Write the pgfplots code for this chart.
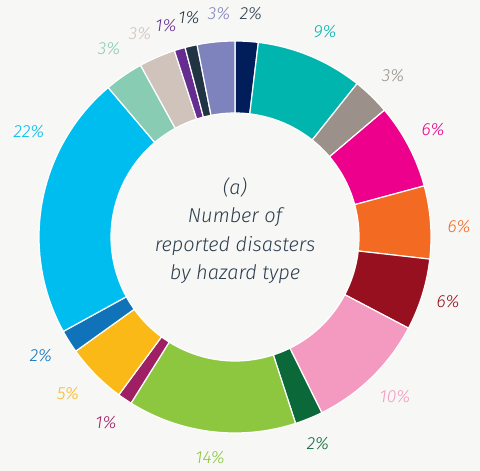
\documentclass[border=0pt]{standalone}
\usepackage{fontspec}
\setmainfont{Fira Sans Light}[ItalicFont={Fira Sans Light Italic}]
\usepackage{pgfplots}
\pgfplotsset{compat=1.18}
\definecolor{bgcol}{RGB}{247,247,245}
\definecolor{txt}{RGB}{46,62,79}
\definecolor{cnavy}{RGB}{2,30,90}
\definecolor{cteal}{RGB}{0,181,173}
\definecolor{cgray}{RGB}{155,145,138}
\definecolor{cmag}{RGB}{236,0,140}
\definecolor{corange}{RGB}{243,106,34}
\definecolor{cdred}{RGB}{150,16,31}
\definecolor{cpink}{RGB}{244,154,193}
\definecolor{cdgreen}{RGB}{11,104,56}
\definecolor{clgreen}{RGB}{141,198,63}
\definecolor{cplum}{RGB}{158,31,99}
\definecolor{cyellow}{RGB}{251,185,23}
\definecolor{cblue}{RGB}{16,115,185}
\definecolor{clblue}{RGB}{0,189,240}
\definecolor{cmint}{RGB}{137,204,180}
\definecolor{cbeige}{RGB}{208,195,187}
\definecolor{cpurple}{RGB}{102,45,145}
\definecolor{cslate}{RGB}{33,52,67}
\definecolor{clav}{RGB}{127,131,189}
% start %, end %, colour
\newcommand\seg[3]{%
\addplot[fill=#3, draw=white, line width=1.2pt, variable=\t,
  samples at={0,0.025,...,0.99,1,2,2.025,...,2.99,3}]
 ({235+((\t<1.5) ? (196) : (124))*sin(3.6*((\t<1.5) ? (#1+(#2-#1)*min(\t,1)) : (#2-(#2-#1)*min(\t-2,1))))},
  {234+((\t<1.5) ? (196) : (124))*cos(3.6*((\t<1.5) ? (#1+(#2-#1)*min(\t,1)) : (#2-(#2-#1)*min(\t-2,1))))}) -- cycle;}
\newcommand\lab[4]{\node[text=#3, font=\itshape\fontsize{17.5}{17.5}\selectfont] at (axis cs:#1,#2) {#4};}
\begin{document}
\begin{tikzpicture}
\begin{axis}[width=480pt, height=471pt, scale only axis, xmin=0, xmax=480, ymin=0, ymax=471, hide axis, clip=false]
\fill[bgcol] (axis cs:0,0) rectangle (axis cs:480,471);
\seg{0}{1.9}{cnavy}
\seg{1.9}{10.7}{cteal}
\seg{10.7}{13.8}{cgray}
\seg{13.8}{20.8}{cmag}
\seg{20.8}{26.8}{corange}
\seg{26.8}{32.7}{cdred}
\seg{32.7}{42.7}{cpink}
\seg{42.7}{45.0}{cdgreen}
\seg{45.0}{58.9}{clgreen}
\seg{58.9}{60.1}{cplum}
\seg{60.1}{65.1}{cyellow}
\seg{65.1}{67.0}{cblue}
\seg{67.0}{88.8}{clblue}
\seg{88.8}{92.0}{cmint}
\seg{92.0}{95.0}{cbeige}
\seg{95.0}{95.9}{cpurple}
\seg{95.9}{96.9}{cslate}
\seg{96.9}{100}{clav}
\lab{251}{457}{txt}{2\%}
\lab{325}{439}{cteal}{9\%}
\lab{393}{395}{cgray}{3\%}
\lab{433}{341}{cmag}{6\%}
\lab{459}{244}{corange}{6\%}
\lab{448}{169}{cdred}{6\%}
\lab{395}{74}{cpink}{10\%}
\lab{318}{27}{cdgreen}{2\%}
\lab{210}{13}{clgreen}{14\%}
\lab{106}{48}{cplum}{1\%}
\lab{68}{77}{cyellow}{5\%}
\lab{41}{115}{cblue}{2\%}
\lab{29}{339}{clblue}{22\%}
\lab{109}{422}{cmint}{3\%}
\lab{140}{437}{cbeige}{3\%}
\lab{166}{445}{cpurple}{1\%}
\lab{189}{453}{cslate}{1\%}
\lab{219}{457}{clav}{3\%}
\node[align=center, text=txt, font=\itshape\fontsize{20}{28.5}\selectfont] at (axis cs:235,240.5) {(a)\\Number of\\reported disasters\\by hazard type};
\end{axis}
\end{tikzpicture}
\end{document}
